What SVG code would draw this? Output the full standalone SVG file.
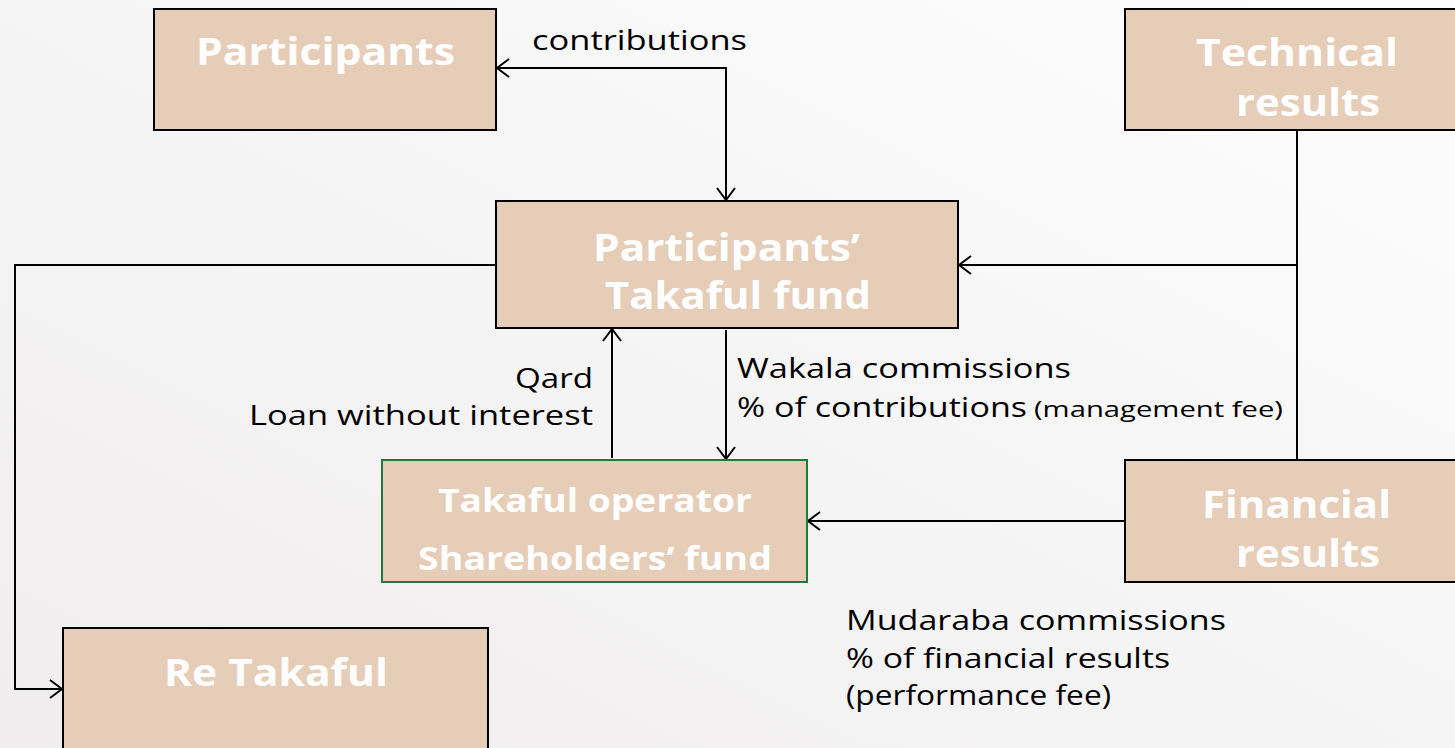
<svg xmlns="http://www.w3.org/2000/svg" width="1455" height="748" viewBox="0 0 1455 748">
<defs>
<linearGradient id="bg" x1="1" y1="0" x2="0" y2="1">
<stop offset="0" stop-color="#fdfdfd"/>
<stop offset="1" stop-color="#efeded"/>
</linearGradient>
<marker id="arr" viewBox="0 0 14 20" refX="13" refY="10" markerWidth="14" markerHeight="20" markerUnits="userSpaceOnUse" orient="auto">
<path d="M1,1 L13,10 L1,19" fill="none" stroke="#000" stroke-width="2"/>
</marker>
<style>
.box{fill:#e6cdb7;stroke:#000;stroke-width:2}
.gbox{fill:#e6cdb7;stroke:#1e7a3c;stroke-width:2}
.t{font-family:"Open Sans","DejaVu Sans",sans-serif;font-weight:700;fill:#fff;text-anchor:middle}
.l{font-family:"Open Sans","DejaVu Sans",sans-serif;font-weight:500;fill:#000;font-size:27px}
.s{font-size:21px}
.c{fill:none;stroke:#000;stroke-width:2}
</style>
</defs>
<rect width="1455" height="748" fill="url(#bg)"/>
<g id="connectors">
<polyline class="c" points="726,68 497,68" marker-end="url(#arr)"/>
<polyline class="c" points="726,67 726,200" marker-end="url(#arr)"/>
<polyline class="c" points="1297,130 1297,460"/>
<line class="c" x1="1297" y1="265" x2="959" y2="265" marker-end="url(#arr)"/>
<polyline class="c" points="496,265 15,265 15,689 62,689" marker-end="url(#arr)"/>
<line class="c" x1="612" y1="458" x2="612" y2="329" marker-end="url(#arr)"/>
<line class="c" x1="726" y1="330" x2="726" y2="459" marker-end="url(#arr)"/>
<line class="c" x1="1125" y1="521" x2="808" y2="521" marker-end="url(#arr)"/>
</g>
<g id="participants">
<rect class="box" x="154" y="9" width="342" height="121"/>
<text class="t" x="325.5" y="65" font-size="37" textLength="259" lengthAdjust="spacingAndGlyphs">Participants</text>
</g>
<g id="technical-results">
<rect class="box" x="1125" y="9" width="340" height="121"/>
<text class="t" x="1297" y="66" font-size="37" textLength="202" lengthAdjust="spacingAndGlyphs">Technical</text>
<text class="t" x="1308" y="116" font-size="37" textLength="144" lengthAdjust="spacingAndGlyphs">results</text>
</g>
<g id="takaful-fund">
<rect class="box" x="496" y="201" width="462" height="127"/>
<text class="t" x="726.5" y="261" font-size="37" textLength="267" lengthAdjust="spacingAndGlyphs">Participants’</text>
<text class="t" x="738" y="309" font-size="37" textLength="266" lengthAdjust="spacingAndGlyphs">Takaful fund</text>
</g>
<g id="takaful-operator">
<rect class="gbox" x="382" y="460" width="425" height="122"/>
<text class="t" x="595" y="512" font-size="32" textLength="314" lengthAdjust="spacingAndGlyphs">Takaful operator</text>
<text class="t" x="595" y="570" font-size="32" textLength="354" lengthAdjust="spacingAndGlyphs">Shareholders’ fund</text>
</g>
<g id="financial-results">
<rect class="box" x="1125" y="460" width="340" height="122"/>
<text class="t" x="1296.5" y="518" font-size="37" textLength="189" lengthAdjust="spacingAndGlyphs">Financial</text>
<text class="t" x="1308" y="567" font-size="37" textLength="144" lengthAdjust="spacingAndGlyphs">results</text>
</g>
<g id="re-takaful">
<rect class="box" x="63" y="628" width="425" height="130"/>
<text class="t" x="276" y="686" font-size="37" textLength="224" lengthAdjust="spacingAndGlyphs">Re Takaful</text>
</g>
<g id="labels">
<text class="l" x="532" y="50" textLength="215" lengthAdjust="spacingAndGlyphs">contributions</text>
<text class="l" x="593" y="388" text-anchor="end" textLength="78" lengthAdjust="spacingAndGlyphs">Qard</text>
<text class="l" x="593" y="425" text-anchor="end" textLength="344" lengthAdjust="spacingAndGlyphs">Loan without interest</text>
<text class="l" x="737" y="378" textLength="334" lengthAdjust="spacingAndGlyphs">Wakala commissions</text>
<text class="l" x="737" y="417" textLength="290" lengthAdjust="spacingAndGlyphs">% of contributions</text>
<text class="l s" x="1034" y="417" textLength="249" lengthAdjust="spacingAndGlyphs">(management fee)</text>
<text class="l" x="846" y="630" textLength="380" lengthAdjust="spacingAndGlyphs">Mudaraba commissions</text>
<text class="l" x="846" y="668" textLength="324" lengthAdjust="spacingAndGlyphs">% of financial results</text>
<text class="l" x="846" y="705" textLength="265" lengthAdjust="spacingAndGlyphs">(performance fee)</text>
</g>
</svg>
